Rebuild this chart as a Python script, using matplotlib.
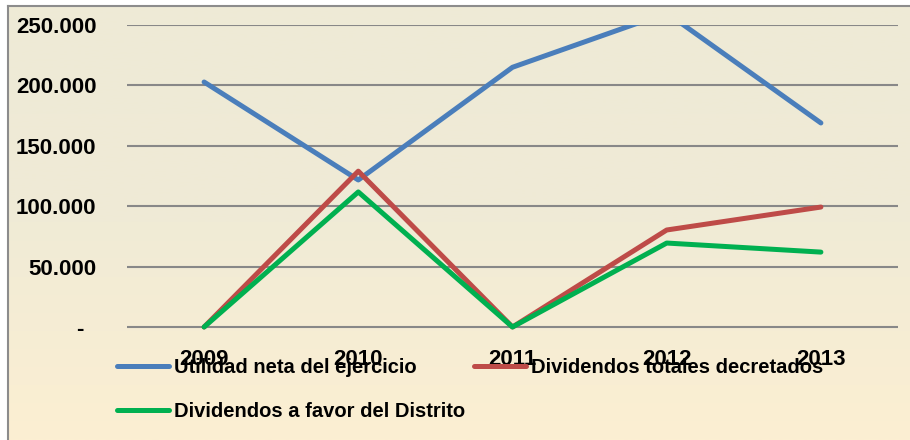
import numpy as np
import matplotlib.pyplot as plt
from matplotlib.colors import LinearSegmentedColormap
from matplotlib.ticker import FuncFormatter

years = ['2009', '2010', '2011', '2012', '2013']
utilidad = [202800, 121700, 215000, 260000, 168900]
dividendos_totales = [0, 129000, 0, 80300, 99300]
dividendos_distrito = [0, 111800, 0, 69500, 62000]

plt.rcParams['font.family'] = ['Liberation Sans', 'DejaVu Sans']
plt.rcParams['font.weight'] = 'bold'

W, H = 910, 440
fig = plt.figure(figsize=(W / 100, H / 100), dpi=100)

# fondo degradado con borde gris
bg = fig.add_axes([8 / W, 0, 1 - 8 / W, 1 - 6 / H], zorder=-10)
cmap = LinearSegmentedColormap.from_list('fondo', ['#eeead6', '#f0ebd6', '#fcefd2'])
grad = np.linspace(0, 1, 256).reshape(-1, 1)
bg.imshow(grad, cmap=cmap, aspect='auto', extent=[0, 1, 0, 1], origin='upper')
bg.set_xticks([])
bg.set_yticks([])
for s in ['right', 'bottom']:
    bg.spines[s].set_visible(False)
for s in ['left', 'top']:
    bg.spines[s].set_color('#8c8c8c')
    bg.spines[s].set_linewidth(1.5)

# area del grafico
y0_px, y250_px, ymin = 327, 25, -8000
px_per = (y0_px - y250_px) / 250000
bottom_px = y0_px + (-ymin) * px_per
ax = fig.add_axes([127 / W, 1 - bottom_px / H, 771 / W, (bottom_px - y250_px) / H])
ax.patch.set_alpha(0)

x = np.arange(len(years))
l1, = ax.plot(x, utilidad, color='#4a7ebb', lw=3.6, solid_capstyle='round',
              solid_joinstyle='round', label='Utilidad neta del ejercicio')
l2, = ax.plot(x, dividendos_totales, color='#be4b48', lw=3.6, solid_capstyle='round',
              solid_joinstyle='round', label='Dividendos totales decretados')
l3, = ax.plot(x, dividendos_distrito, color='#00b050', lw=3.6, solid_capstyle='round',
              solid_joinstyle='round', label='Dividendos a favor del Distrito')

ax.set_xlim(-0.5, 4.5)
ax.set_ylim(ymin, 250000)
ax.set_yticks(range(0, 250001, 50000))
ax.yaxis.set_major_formatter(FuncFormatter(
    lambda v, p: '-  ' if v == 0 else f'{int(v):,}'.replace(',', '.')))
ax.set_xticks(x)
ax.set_xticklabels(years)
ax.grid(axis='y', color='#888888', lw=1.5)
ax.set_axisbelow(True)
for s in ax.spines.values():
    s.set_visible(False)
ax.tick_params(axis='both', length=0, labelsize=16)
ax.tick_params(axis='y', pad=22)
ax.tick_params(axis='x', pad=9)

fig.legend([l1, l3, l2], [l1.get_label(), l3.get_label(), l2.get_label()],
           ncol=2, loc='upper left', bbox_to_anchor=(117 / W, 1 - 358 / H),
           frameon=False, fontsize=14.5, borderpad=0, borderaxespad=0,
           handlelength=2.6, handletextpad=0.25, columnspacing=0.4, labelspacing=1.25)

fig.savefig('out.png', dpi=100)
